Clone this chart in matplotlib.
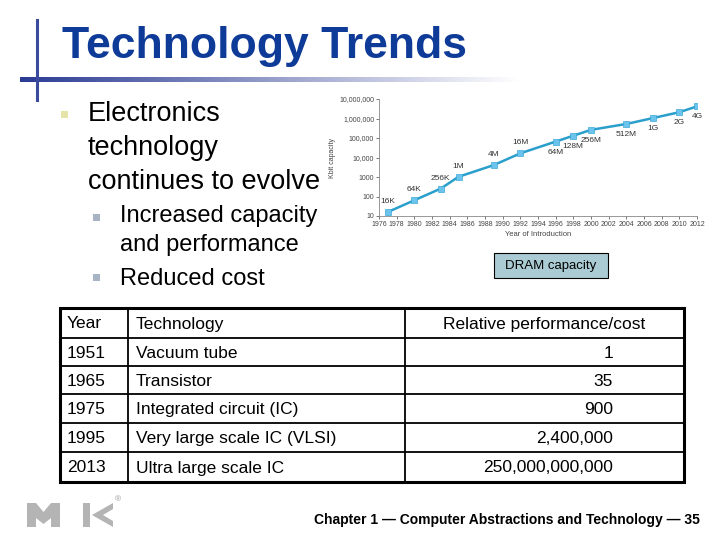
import numpy as np
import matplotlib
matplotlib.use("Agg")
import matplotlib.pyplot as plt
from matplotlib.patches import Rectangle, Polygon
from matplotlib.ticker import FixedLocator, FuncFormatter

plt.rcParams['font.family'] = ['Liberation Sans', 'DejaVu Sans']

# DRAM capacity data (Kbit)
years = [1977, 1980, 1983, 1985, 1989, 1992, 1996, 1998, 2000, 2004, 2007, 2010, 2012]
kbits = [16, 64, 256, 1024, 4096, 16384, 65536, 131072, 262144, 524288,
         1048576, 2097152, 4194304]
chip_labels = ['16K', '64K', '256K', '1M', '4M', '16M', '64M', '128M', '256M',
               '512M', '1G', '2G', '4G']
label_above = [True, True, True, True, True, True, False, False, False,
               False, False, False, False]

# table data
tbl_year = ['1951', '1965', '1975', '1995', '2013']
tbl_tech = ['Vacuum tube', 'Transistor', 'Integrated circuit (IC)',
            'Very large scale IC (VLSI)', 'Ultra large scale IC']
tbl_perf = ['1', '35', '900', '2,400,000', '250,000,000,000']

fig = plt.figure(figsize=(7.2, 5.4), dpi=100)
bg = fig.add_axes([0, 0, 1, 1])
bg.set_xlim(0, 720)
bg.set_ylim(540, 0)
bg.axis('off')

# title decoration
grad = np.linspace(0, 1, 256).reshape(1, -1)
c0 = np.array([0.17, 0.23, 0.58])
c1 = np.array([1.0, 1.0, 1.0])
img = c0[None, None, :] * (1 - grad[..., None]) + c1[None, None, :] * grad[..., None]
bg.imshow(img, extent=[20, 520, 82, 77], aspect='auto', zorder=1)
bg.plot([37, 37], [20, 100], color='#3a4a9c', lw=2.2, zorder=2)
bg.text(62, 58, 'Technology Trends', fontsize=32, fontweight='bold',
        color='#0e3a98', va='baseline', ha='left')

# bullets
bg.add_patch(Rectangle((61, 111), 7, 7, color='#e4e4a8', lw=0))
for i, line in enumerate(['Electronics', 'technology', 'continues to evolve']):
    bg.text(88, 121 + 34 * i, line, fontsize=19.5, va='baseline', ha='left')
bg.add_patch(Rectangle((93, 214), 7, 7, color='#a8b4c4', lw=0))
bg.add_patch(Rectangle((93, 274), 7, 7, color='#a8b4c4', lw=0))
bg.text(120, 222, 'Increased capacity', fontsize=17, va='baseline')
bg.text(120, 251, 'and performance', fontsize=17, va='baseline')
bg.text(120, 285, 'Reduced cost', fontsize=17, va='baseline')

# DRAM box
bg.add_patch(Rectangle((494, 253), 114, 25, facecolor='#aacbd3',
                       edgecolor='black', lw=0.8))
bg.text(551, 266, 'DRAM capacity', fontsize=9.5, ha='center', va='center')

# table
row_y = [308, 338, 366, 394, 423, 452, 482]
col_x = [60, 128, 405, 684]
for y in row_y[1:-1]:
    bg.plot([col_x[0], col_x[-1]], [y, y], color='black', lw=1.3)
for x in col_x[1:-1]:
    bg.plot([x, x], [row_y[0], row_y[-1]], color='black', lw=1.3)
bg.add_patch(Rectangle((col_x[0], row_y[0]), col_x[-1] - col_x[0],
                       row_y[-1] - row_y[0], fill=False, edgecolor='black', lw=2.2))
def cell(x, r, s, ha='left'):
    yc = (row_y[r] + row_y[r + 1]) / 2 + 1
    bg.text(x, yc, s, fontsize=12.5, ha=ha, va='center')
cell(67, 0, 'Year')
cell(136, 0, 'Technology')
cell(544, 0, 'Relative performance/cost', ha='center')
for i in range(len(tbl_year)):
    cell(67, i + 1, tbl_year[i])
    cell(136, i + 1, tbl_tech[i])
    cell(613, i + 1, tbl_perf[i], ha='right')

# footer
bg.text(700, 524, 'Chapter 1 \u2014 Computer Abstractions and Technology \u2014 35',
        fontsize=10, fontweight='bold', ha='right', va='baseline')

# MK logo
gray = '#b4b4b4'
bg.add_patch(Polygon([(27, 503), (36, 503), (43.5, 512), (51, 503), (60, 503),
                      (60, 527), (51, 527), (51, 518), (43.5, 524), (36, 518),
                      (36, 527), (27, 527)], closed=True, color=gray, lw=0))
bg.add_patch(Rectangle((83, 503), 7, 24, color=gray, lw=0))
bg.add_patch(Polygon([(113, 503), (113, 509), (103, 515), (113, 521), (113, 527),
                      (92, 515)], closed=True, color=gray, lw=0))
bg.text(118, 500, '\u00ae', fontsize=6, color='#999999', ha='center', va='center')

# DRAM chart
ax = fig.add_axes([379 / 720, 1 - 216 / 540, 318 / 720, 117 / 540])
ax.set_yscale('log')
ax.plot(years, kbits, color='#2a9fcc', lw=1.8, marker='s', ms=3.8,
        mfc='#6cc4ec', mec='#3aa8d8', mew=0.5)
for x, y, s, up in zip(years, kbits, chip_labels, label_above):
    ax.annotate(s, (x, y), xytext=(0, 5 if up else -5), textcoords='offset points',
                ha='center', va='bottom' if up else 'top', fontsize=6, color='#333333')
ax.set_xlim(1976, 2012)
ax.set_ylim(10, 1e7)
ax.xaxis.set_major_locator(FixedLocator(np.arange(1976, 2013, 2)))
ax.yaxis.set_major_locator(FixedLocator([10, 100, 1000, 1e4, 1e5, 1e6, 1e7]))
ax.yaxis.set_minor_locator(FixedLocator([]))
ax.yaxis.set_major_formatter(FuncFormatter(
    lambda v, p: '{:,}'.format(int(v)) if v >= 10000 else str(int(v))))
ax.tick_params(labelsize=5, colors='#444444', length=2, width=0.5, pad=1.5)
for side in ['top', 'right']:
    ax.spines[side].set_visible(False)
for side in ['left', 'bottom']:
    ax.spines[side].set_color('#888888')
    ax.spines[side].set_linewidth(0.6)
ax.set_ylabel('Kbit capacity', fontsize=5, color='#444444', labelpad=2)
ax.set_xlabel('Year of Introduction', fontsize=5.5, color='#444444', labelpad=2)
ax.patch.set_alpha(0)

fig.savefig('out.png', dpi=100)
